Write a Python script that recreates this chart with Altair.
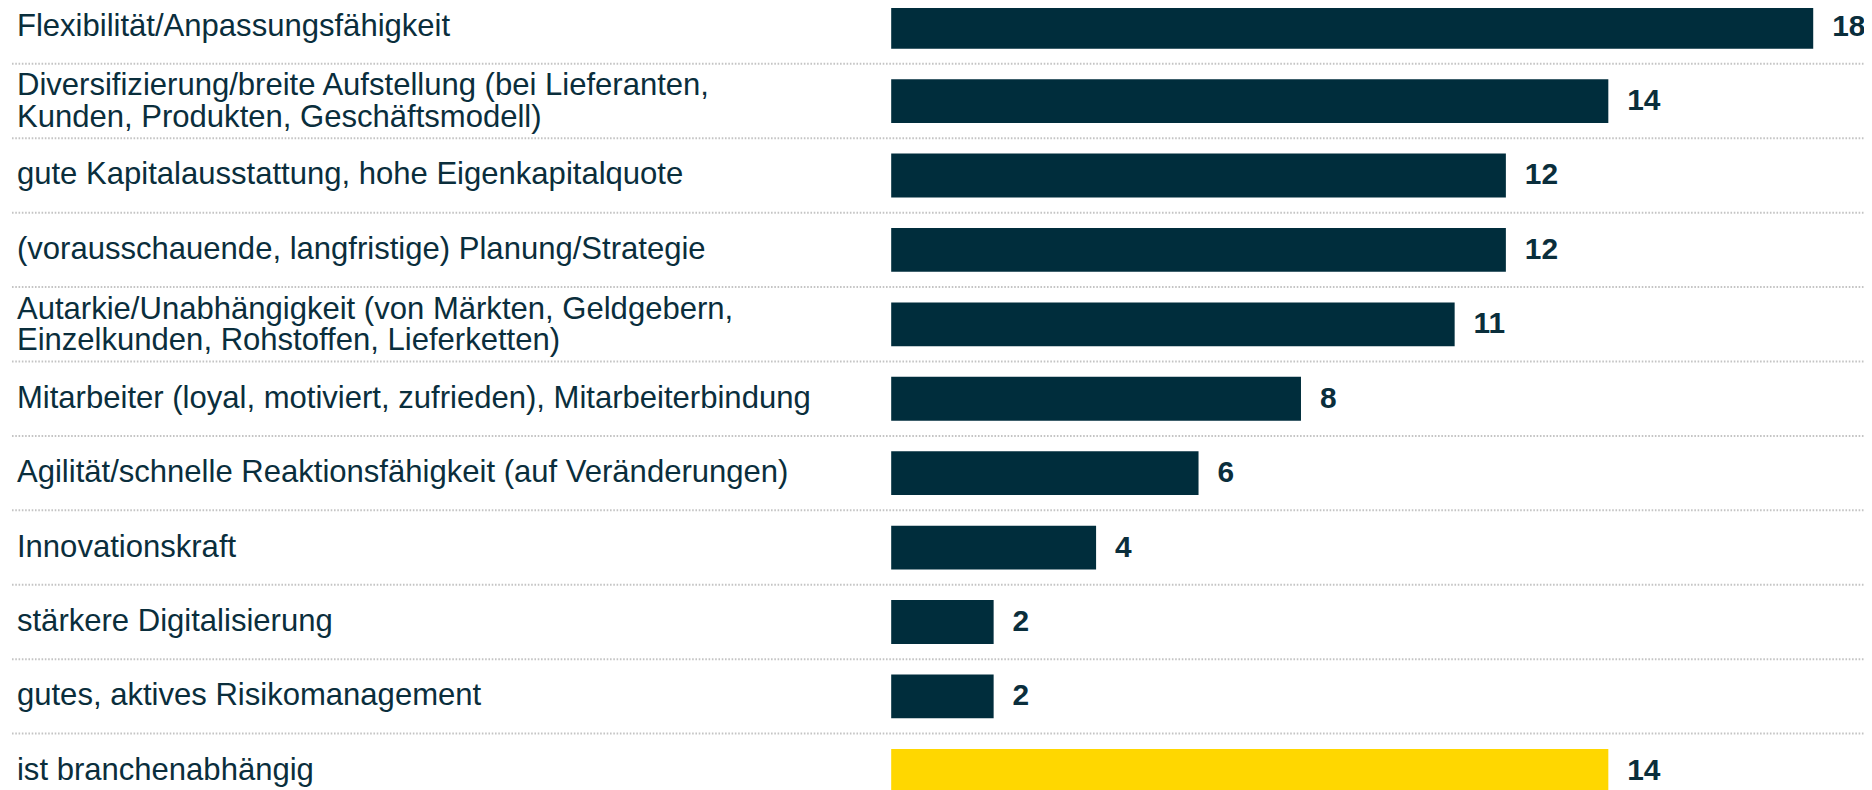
import altair as alt
import pandas as pd

labels = [
    "Flexibilität/Anpassungsfähigkeit",
    "Diversifizierung/breite Aufstellung (bei Lieferanten,\nKunden, Produkten, Geschäftsmodell)",
    "gute Kapitalausstattung, hohe Eigenkapitalquote",
    "(vorausschauende, langfristige) Planung/Strategie",
    "Autarkie/Unabhängigkeit (von Märkten, Geldgebern,\nEinzelkunden, Rohstoffen, Lieferketten)",
    "Mitarbeiter (loyal, motiviert, zufrieden), Mitarbeiterbindung",
    "Agilität/schnelle Reaktionsfähigkeit (auf Veränderungen)",
    "Innovationskraft",
    "stärkere Digitalisierung",
    "gutes, aktives Risikomanagement",
    "ist branchenabhängig",
]
values = [18, 14, 12, 12, 11, 8, 6, 4, 2, 2, 14]
groups = ["Faktor"] * 10 + ["branchenabhängig"]
keys = [f"r{i:02d}" for i in range(len(labels))]

df = pd.DataFrame({"key": keys, "label": labels, "value": values, "group": groups})
df["lines"] = df["label"].str.count("\n") + 1

NAVY = "#002D3C"
YELLOW = "#FFD700"
TEXT = "#0A2E3C"
FONT = "Liberation Sans"
FS = 31.2
LH = 31.5

yscale = alt.Scale(domain=keys, range=[-20.3, 801.8], paddingInner=0.41, paddingOuter=0.205)
xscale = alt.Scale(domain=[0, 18], range=[887, 1813])
Y = alt.Y("key:N", scale=yscale, axis=None)

base = alt.Chart(df)

sep = base.mark_rule(color="#C4C4C4", strokeWidth=2, strokeDash=[1.6, 1.7], yOffset=15.3).encode(
    y=alt.Y("key:N", scale=yscale, axis=None, bandPosition=1),
    x=alt.value(4),
    x2=alt.value(1872),
)

bars = base.mark_bar().encode(
    y=Y,
    x=alt.X("value:Q", scale=xscale, axis=None),
    color=alt.Color("group:N", scale=alt.Scale(domain=["Faktor", "branchenabhängig"], range=[NAVY, YELLOW]), legend=None),
)

cat_one = base.transform_filter("datum.lines == 1").mark_text(
    align="left", baseline="middle", lineBreak="\n", lineHeight=LH,
    fontSize=FS, font=FONT, color=TEXT,
).encode(y=Y, x=alt.value(9), text="label:N")

cat_two = base.transform_filter("datum.lines == 2").mark_text(
    align="left", baseline="middle", lineBreak="\n", lineHeight=LH, dy=-LH / 2 + 1,
    fontSize=FS, font=FONT, color=TEXT,
).encode(y=Y, x=alt.value(9), text="label:N")

val_text = base.mark_text(
    align="left", baseline="middle", dx=19, fontSize=30, fontWeight="bold", font=FONT, color=TEXT,
).encode(y=Y, x=alt.X("value:Q", scale=xscale, axis=None), text="value:Q")

chart = alt.layer(sep, bars, cat_one, cat_two, val_text).properties(
    width=1864, height=782, padding=0,
    autosize=alt.AutoSizeParams(type="none"),
).configure_view(stroke=None)

chart.save("out.html", embed_options={"renderer": "svg", "actions": False})
